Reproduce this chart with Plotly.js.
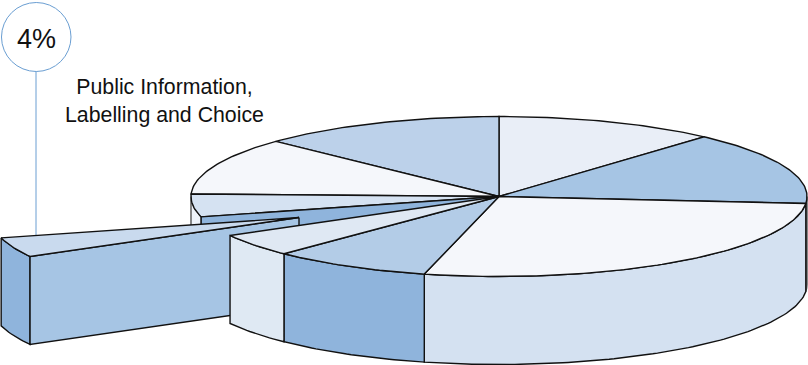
<!DOCTYPE html>
<html>
<head>
<meta charset="utf-8">
<script src="https://cdn.plot.ly/plotly-3.0.1.min.js"></script>
<style>html,body{margin:0;padding:0;background:#fff}#chart{width:808px;height:365px}</style>
</head>
<body>
<div id="chart"></div>
<script>
// Percent shares, clockwise from twelve o'clock
const sliceNames = ['A', 'B', 'C', 'D', 'E', 'Public Information, Labelling and Choice', 'G', 'H', 'I'];
const sliceValues = [11.6, 14.8, 27.5, 8.4, 4.6, 4, 4.6, 11.6, 12.9];
const topColors = ['#e9eef7', '#a6c5e4', '#f5f7fb', '#b3cce7', '#dfe8f3', '#c9daee', '#d5e2f2', '#f5f7fb', '#bcd1ea'];
const wallColors = ['#e9eef7', '#a6c5e4', '#d4e1f1', '#8fb4dc', '#dfe9f3', '#8fb4dc', '#eef3fa', '#f5f7fb', '#bcd1ea'];
const explodedIndex = 5;
const explodedFaceColor = '#a6c5e4';
const cutFaceColor = '#8fb4dc';

// Projection of the tilted disc onto the plot
const cx = 499, cy = 196.5, rx = 308, ry = 80, depth = 88;
const explodeX = -200, explodeY = 21;
const edge = '#111111';

const total = sliceValues.reduce((a, b) => a + b, 0);
const bounds = [0];
sliceValues.forEach(v => bounds.push(bounds[bounds.length - 1] + v / total * 360));

const rad = d => d * Math.PI / 180;
const rim = (t, dx = 0, dy = 0) => [cx + dx + rx * Math.sin(rad(t)), cy + dy - ry * Math.cos(rad(t))];
function arc(a, b, dx = 0, dy = 0) {
  const n = Math.max(2, Math.ceil(Math.abs(b - a)));
  const pts = [];
  for (let i = 0; i <= n; i++) pts.push(rim(a + (b - a) * i / n, dx, dy));
  return pts;
}
const traces = [];
function poly(name, pts, fill, color = edge, width = 1.4) {
  const closed = pts.concat([pts[0]]);
  traces.push({
    type: 'scatter', mode: 'lines', name, hoverinfo: 'name',
    x: closed.map(p => p[0]), y: closed.map(p => p[1]),
    fill: 'toself', fillcolor: fill,
    line: { color, width, shape: 'linear' }
  });
}
function topFace(i, dx = 0, dy = 0) {
  poly(sliceNames[i], [[cx + dx, cy + dy]].concat(arc(bounds[i], bounds[i + 1], dx, dy)), topColors[i]);
}
function wall(i, dx = 0, dy = 0, color = edge) {
  const a = Math.max(bounds[i], 90), b = Math.min(bounds[i + 1], 270);
  if (b <= a) return;
  poly(sliceNames[i], arc(a, b, dx, dy).concat(arc(b, a, dx, dy + depth)), wallColors[i], color);
}

// Back of the disc
wall(1, 0, 0, '#555');
wall(6, 0, 0, '#555');
[0, 1, 8, 7, 6].forEach(i => topFace(i));

// Cut face left exposed by the pulled-out slice
const hole = rim(bounds[explodedIndex + 1]);
poly('cut face', [[cx, cy], hole, [hole[0], hole[1] + depth], [cx, cy + depth]], cutFaceColor);

// Pulled-out slice
const e = explodedIndex, near = rim(bounds[e], explodeX, explodeY);
const ex = cx + explodeX, ey = cy + explodeY;
wall(e, explodeX, explodeY);
poly('radial face', [[ex, ey], near, [near[0], near[1] + depth], [ex, ey + depth]], explodedFaceColor);
topFace(e, explodeX, explodeY);

// Front of the disc
[2, 3, 4].forEach(i => wall(i));
[2, 3, 4].forEach(i => topFace(i));

const calloutColor = '#6a9ed2';
const layout = {
  width: 808, height: 365,
  margin: { l: 0, r: 0, t: 0, b: 0 },
  paper_bgcolor: '#fff', plot_bgcolor: '#fff',
  showlegend: false,
  xaxis: { range: [0, 808], visible: false, fixedrange: true },
  yaxis: { range: [365, 0], visible: false, fixedrange: true },
  shapes: [
    { type: 'line', layer: 'below', x0: 36, x1: 36, y0: 70, y1: 245, line: { color: calloutColor, width: 1 } },
    { type: 'circle', layer: 'above', x0: 1.5, x1: 71, y0: 2.5, y1: 71.5, fillcolor: '#fff', line: { color: calloutColor, width: 1 } }
  ],
  annotations: [
    { x: 36.5, y: 38.5, xref: 'x', yref: 'y', text: sliceValues[explodedIndex] + '%', showarrow: false,
      font: { family: 'Liberation Sans, Arial, sans-serif', size: 27, color: '#111' } },
    { x: 164.5, y: 100.5, xref: 'x', yref: 'y', align: 'center', showarrow: false,
      text: 'Public Information,<br>Labelling and Choice',
      font: { family: 'Liberation Sans, Arial, sans-serif', size: 21.3, color: '#111' } }
  ]
};
Plotly.newPlot('chart', traces, layout, { displayModeBar: false, staticPlot: true });
</script>
</body>
</html>
